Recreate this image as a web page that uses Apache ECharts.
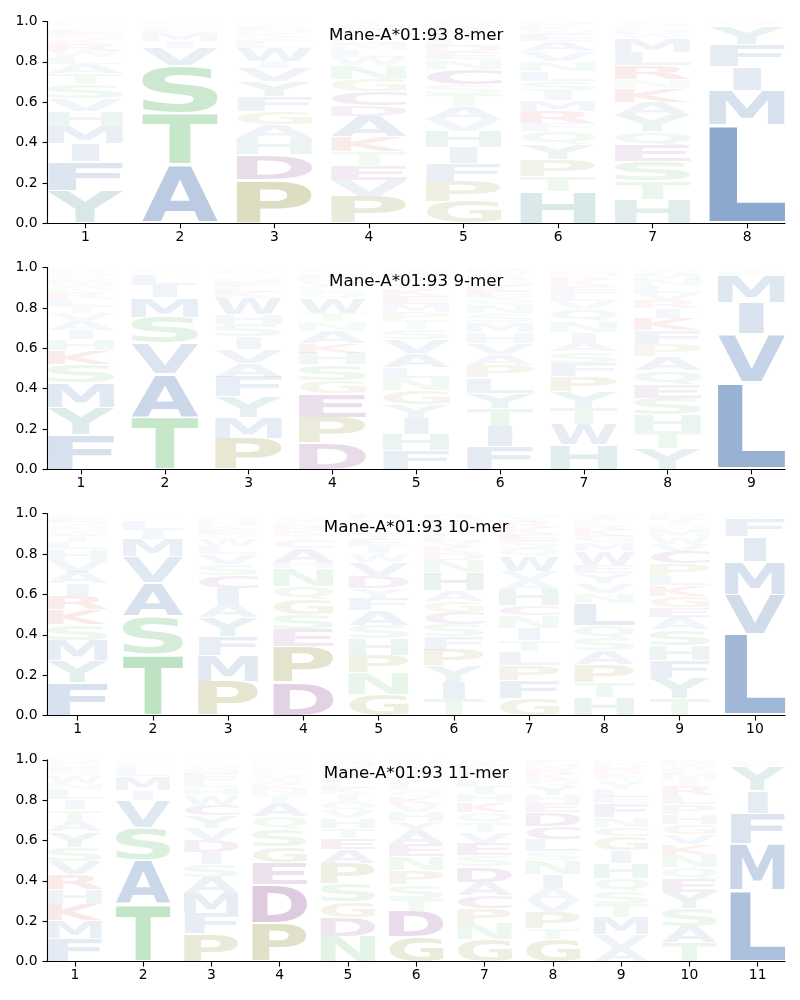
<!DOCTYPE html>
<html>
<head>
<meta charset="utf-8">
<script src="https://cdn.jsdelivr.net/npm/echarts@6/dist/echarts.min.js"></script>
<style>html,body{margin:0;padding:0;background:#fff}#c{width:800px;height:1000px}</style>
</head>
<body>
<div id="c"></div>
<script>
// ---------------- DATA ----------------
const titles = ['Mane-A*01:93 8-mer', 'Mane-A*01:93 9-mer', 'Mane-A*01:93 10-mer', 'Mane-A*01:93 11-mer'];
const positions8 = [1, 2, 3, 4, 5, 6, 7, 8];
const positions9 = [1, 2, 3, 4, 5, 6, 7, 8, 9];
const positions10 = [1, 2, 3, 4, 5, 6, 7, 8, 9, 10];
const positions11 = [1, 2, 3, 4, 5, 6, 7, 8, 9, 10, 11];
const yTicks = [0, 0.2, 0.4, 0.6, 0.8, 1.0];

// each position: [residue, probability], stacked bottom -> top
const logo8 = [
  [['Y',.16],['F',.145],['I',.09],['M',.087],['H',.075],['V',.06],['S',.07],['T',.055],['A',.045],['L',.035],['W',.03],['R',.035],['K',.025],['N',.02],['E',.025],['Q',.015],['G',.015],['D',.01]],
  [['A',.29],['T',.256],['S',.234],['V',.088],['I',.033],['M',.041],['L',.02],['G',.015],['N',.012],['C',.011]],
  [['P',.216],['D',.124],['H',.082],['A',.066],['G',.066],['F',.075],['Y',.074],['V',.066],['I',.033],['W',.066],['L',.03],['S',.025],['K',.02],['M',.02],['E',.015],['T',.012],['R',.01]],
  [['P',.134],['V',.08],['E',.074],['T',.066],['K',.074],['A',.1],['D',.055],['C',.07],['G',.06],['N',.07],['W',.04],['L',.035],['M',.03],['S',.03],['Y',.025],['R',.025],['H',.02],['I',.012]],
  [['G',.109],['P',.099],['F',.09],['I',.08],['H',.08],['V',.058],['A',.063],['T',.058],['S',.05],['C',.074],['N',.05],['E',.035],['D',.03],['L',.03],['M',.025],['K',.025],['R',.02],['Q',.024]],
  [['H',.158],['T',.075],['P',.082],['Y',.074],['Q',.065],['F',.04],['R',.06],['M',.055],['I',.045],['S',.05],['L',.05],['N',.05],['V',.05],['A',.05],['E',.03],['W',.025],['K',.021],['D',.02]],
  [['H',.12],['T',.091],['S',.096],['E',.078],['Q',.07],['Y',.08],['A',.066],['K',.07],['N',.04],['R',.07],['L',.066],['M',.07],['W',.02],['D',.02],['F',.015],['G',.028]],
  [['L',.49],['M',.17],['I',.115],['F',.11],['Y',.09],['V',.015],['W',.01]]
];
const logo9 = [
  [['F',.17],['Y',.135],['M',.124],['S',.09],['K',.07],['H',.055],['I',.045],['A',.045],['V',.04],['T',.035],['L',.035],['R',.03],['N',.025],['W',.025],['E',.02],['Q',.02],['G',.015],['D',.011],['C',.01]],
  [['T',.258],['A',.216],['V',.15],['S',.13],['M',.097],['I',.063],['L',.056],['G',.01],['C',.01],['F',.01]],
  [['P',.155],['M',.104],['Y',.1],['F',.098],['A',.07],['V',.07],['I',.06],['S',.063],['H',.05],['W',.08],['K',.03],['L',.03],['E',.025],['N',.02],['T',.015],['R',.015],['G',.015]],
  [['D',.13],['P',.128],['E',.117],['G',.065],['S',.08],['H',.058],['K',.047],['A',.06],['N',.049],['T',.041],['W',.075],['Q',.03],['L',.025],['V',.025],['M',.02],['R',.02],['Y',.015],['F',.015]],
  [['F',.095],['H',.08],['I',.08],['Y',.065],['G',.07],['N',.06],['L',.055],['A',.07],['V',.07],['S',.05],['T',.045],['P',.04],['M',.04],['E',.04],['K',.035],['Q',.03],['R',.025],['D',.025],['W',.02],['C',.005]],
  [['F',.112],['I',.1],['T',.09],['Y',.077],['L',.076],['P',.062],['A',.055],['V',.055],['H',.052],['M',.05],['S',.045],['N',.04],['Q',.035],['E',.03],['K',.03],['G',.03],['R',.025],['W',.02],['D',.016]],
  [['H',.124],['W',.1],['T',.08],['Y',.08],['P',.078],['F',.065],['S',.057],['A',.048],['I',.048],['N',.054],['Q',.06],['V',.04],['L',.04],['E',.035],['K',.03],['R',.02],['M',.02],['G',.016],['D',.005]],
  [['Y',.102],['T',.088],['H',.08],['S',.083],['E',.067],['Q',.07],['A',.07],['P',.06],['F',.07],['K',.06],['I',.05],['R',.04],['V',.035],['L',.035],['N',.03],['M',.03],['W',.02],['G',.01]],
  [['L',.43],['V',.24],['I',.155],['M',.135],['F',.02],['Y',.015],['W',.005]]
];
const logo10 = [
  [['F',.165],['Y',.105],['M',.103],['S',.077],['K',.075],['R',.065],['I',.063],['A',.058],['V',.058],['H',.055],['L',.035],['T',.03],['W',.025],['N',.025],['Q',.02],['E',.02],['G',.021]],
  [['T',.302],['S',.188],['A',.167],['V',.13],['M',.089],['I',.044],['L',.05],['F',.01],['G',.01],['C',.01]],
  [['P',.17],['M',.125],['F',.095],['Y',.095],['A',.065],['I',.08],['C',.065],['S',.055],['V',.05],['L',.04],['W',.035],['Q',.025],['E',.025],['K',.02],['H',.02],['N',.02],['T',.015]],
  [['D',.165],['P',.175],['E',.085],['S',.075],['G',.075],['Q',.065],['N',.09],['H',.03],['A',.07],['C',.04],['T',.025],['K',.025],['R',.02],['L',.02],['V',.02],['M',.015],['Y',.005]],
  [['G',.105],['N',.105],['P',.09],['H',.08],['S',.067],['A',.072],['F',.063],['Y',.05],['D',.06],['V',.07],['W',.04],['I',.035],['E',.03],['T',.03],['L',.025],['K',.02],['Q',.02],['M',.018],['R',.02]],
  [['T',.08],['I',.085],['Y',.08],['P',.08],['F',.065],['S',.06],['C',.06],['G',.055],['A',.055],['H',.09],['N',.06],['D',.035],['K',.03],['V',.03],['L',.03],['W',.025],['E',.02],['Q',.02],['M',.02],['R',.02]],
  [['G',.085],['F',.09],['P',.075],['L',.066],['T',.055],['I',.063],['N',.06],['C',.05],['H',.08],['A',.045],['V',.045],['W',.075],['Q',.04],['S',.035],['E',.035],['K',.03],['R',.03],['Y',.025],['M',.016]],
  [['H',.088],['T',.075],['P',.09],['A',.068],['S',.06],['Q',.065],['L',.11],['N',.05],['V',.05],['Y',.05],['E',.04],['W',.07],['M',.04],['G',.035],['K',.03],['R',.025],['F',.025],['I',.025],['D',.004]],
  [['T',.085],['Y',.1],['F',.09],['H',.073],['S',.08],['A',.058],['E',.05],['G',.055],['K',.055],['L',.045],['P',.06],['C',.06],['V',.04],['W',.035],['M',.03],['N',.025],['I',.025],['R',.02],['D',.014]],
  [['L',.405],['V',.195],['M',.165],['I',.12],['F',.09],['Y',.015],['W',.01]]
];
const logo11 = [
  [['F',.115],['M',.088],['K',.08],['H',.073],['R',.075],['V',.067],['S',.07],['Y',.075],['A',.053],['T',.057],['I',.05],['L',.045],['N',.035],['W',.035],['Q',.025],['E',.02],['G',.02],['D',.017]],
  [['T',.28],['A',.22],['S',.165],['V',.135],['I',.05],['M',.068],['L',.035],['F',.02],['G',.015],['C',.012]],
  [['P',.137],['F',.1],['M',.1],['A',.08],['S',.065],['I',.06],['D',.06],['V',.06],['Y',.06],['C',.055],['W',.05],['H',.035],['L',.035],['E',.03],['N',.025],['Q',.02],['K',.015],['T',.013]],
  [['P',.19],['D',.19],['E',.11],['G',.08],['S',.085],['Q',.065],['A',.065],['T',.04],['N',.03],['K',.025],['W',.025],['V',.02],['L',.02],['H',.015],['R',.015],['Y',.015],['M',.01]],
  [['N',.125],['D',.095],['G',.075],['S',.09],['P',.1],['A',.07],['E',.055],['T',.05],['H',.05],['V',.04],['Q',.045],['I',.035],['K',.03],['L',.03],['F',.03],['R',.025],['Y',.025],['M',.02],['W',.01]],
  [['G',.125],['D',.125],['T',.06],['S',.07],['P',.07],['N',.07],['E',.06],['A',.065],['Y',.05],['H',.045],['V',.04],['K',.035],['Q',.035],['L',.03],['F',.03],['I',.03],['R',.025],['M',.025],['W',.01]],
  [['G',.11],['N',.08],['P',.075],['C',.065],['A',.065],['D',.075],['S',.055],['E',.06],['V',.055],['T',.05],['Q',.05],['K',.05],['H',.04],['I',.035],['L',.035],['M',.03],['R',.025],['F',.025],['Y',.02]],
  [['G',.11],['T',.055],['P',.08],['V',.06],['A',.058],['I',.07],['N',.07],['S',.042],['L',.06],['C',.065],['D',.07],['E',.045],['H',.04],['Y',.045],['Q',.03],['K',.03],['R',.025],['M',.025],['F',.02]],
  [['A',.065],['V',.068],['M',.085],['T',.065],['S',.065],['Q',.065],['H',.075],['I',.062],['G',.07],['C',.045],['N',.05],['F',.07],['E',.03],['L',.04],['Y',.03],['W',.025],['K',.025],['R',.025],['D',.02],['P',.02]],
  [['T',.095],['A',.08],['S',.09],['Y',.08],['E',.065],['Q',.055],['N',.06],['K',.055],['V',.05],['G',.05],['H',.05],['P',.05],['L',.045],['R',.045],['I',.03],['M',.03],['F',.025],['W',.025],['D',.02]],
  [['L',.355],['M',.23],['F',.15],['I',.11],['Y',.12],['V',.02],['W',.015]]
];

// ---------------- STYLE ----------------
const BLUE = [74, 118, 178], GREEN = [88, 184, 100], PURPLE = [125, 45, 125],
      OLIVE = [135, 135, 40], RED = [214, 39, 40], TEAL = [70, 140, 140];
const residueColor = {
  A: BLUE, V: BLUE, L: BLUE, I: BLUE, M: BLUE, F: BLUE, W: BLUE,
  S: GREEN, T: GREEN, N: GREEN, Q: GREEN,
  D: PURPLE, E: PURPLE, C: PURPLE,
  P: OLIVE, G: OLIVE,
  K: RED, R: RED,
  H: TEAL, Y: TEAL
};
const FONT_FAMILY = 'DejaVu Sans';
const GLYPH_SIZE = 100;
const LETTER_W = 0.8;
const VPAD = 0.05;
const MAX_STRETCH_CHAR = 'E'; // glyphs are never stretched wider than this one would be

// glyph ink metrics (text drawn with baseline 'middle', align 'left')
const mctx = document.createElement('canvas').getContext('2d');
mctx.font = 'bold ' + GLYPH_SIZE + 'px "' + FONT_FAMILY + '"';
mctx.textBaseline = 'middle';
mctx.textAlign = 'left';
const metricCache = {};
function metric(ch) {
  if (!metricCache[ch]) {
    const m = mctx.measureText(ch);
    metricCache[ch] = { l: m.actualBoundingBoxLeft, r: m.actualBoundingBoxRight, a: m.actualBoundingBoxAscent, d: m.actualBoundingBoxDescent };
  }
  return metricCache[ch];
}

const logos = [logo8, logo9, logo10, logo11];
const positionsList = [positions8, positions9, positions10, positions11];

const GRID_LEFT = 47.5, GRID_RIGHT = 15, GRID_TOP0 = 21.5, GRID_STEP = 246.1, GRID_H = 201.8;
const AXIS_COLOR = '#000';
const LABEL_SIZE = 13.9;

const grids = [], xAxes = [], yAxes = [], series = [], titleOpts = [];

logos.forEach((logo, i) => {
  const positions = positionsList[i];
  const n = positions.length;
  const top = GRID_TOP0 + GRID_STEP * i;
  grids.push({ left: GRID_LEFT, right: GRID_RIGHT, top: top, height: GRID_H, containLabel: false });
  xAxes.push({
    type: 'value', gridIndex: i, min: 0.6, max: n + 0.4,
    axisLine: { show: true, onZero: false, lineStyle: { color: AXIS_COLOR, width: 1.1 } },
    axisTick: { show: true, inside: false, length: 5, customValues: positions, lineStyle: { color: AXIS_COLOR, width: 1.1 } },
    axisLabel: { show: true, customValues: positions, margin: 7, color: '#000', fontSize: LABEL_SIZE, fontFamily: FONT_FAMILY, formatter: v => String(v) },
    splitLine: { show: false }
  });
  yAxes.push({
    type: 'value', gridIndex: i, min: 0, max: 1,
    axisLine: { show: true, onZero: false, lineStyle: { color: AXIS_COLOR, width: 1.1 } },
    axisTick: { show: true, inside: false, length: 5, customValues: yTicks, lineStyle: { color: AXIS_COLOR, width: 1.1 } },
    axisLabel: { show: true, customValues: yTicks, margin: 10, color: '#000', fontSize: LABEL_SIZE, fontFamily: FONT_FAMILY, formatter: v => Number(v).toFixed(1) },
    splitLine: { show: false }
  });
  titleOpts.push({
    text: titles[i], left: GRID_LEFT + (800 - GRID_LEFT - GRID_RIGHT) / 2, top: top + 5.5, textAlign: 'center', padding: 0,
    textStyle: { fontSize: 16.7, fontWeight: 'normal', fontFamily: FONT_FAMILY, color: '#000' }
  });

  const glyphs = [];
  logo.forEach((col, j) => {
    let cum = 0;
    col.forEach(([ch, p]) => {
      glyphs.push({ x: positions[j], y0: cum, y1: cum + p, ch: ch, p: p });
      cum += p;
    });
  });

  series.push({
    type: 'custom', xAxisIndex: i, yAxisIndex: i, silent: true, clip: false, animation: false,
    encode: { x: 0, y: [1, 2] },
    data: glyphs.map(g => [g.x, g.y0, g.y1]),
    renderItem: (params, api) => {
      const g = glyphs[params.dataIndex];
      const x = api.value(0), y0 = api.value(1), y1 = api.value(2);
      const pad = (y1 - y0) * VPAD / 2;
      const tl = api.coord([x - LETTER_W / 2, y1 - pad]);
      const br = api.coord([x + LETTER_W / 2, y0 + pad]);
      const m = metric(g.ch);
      const mE = metric(MAX_STRETCH_CHAR);
      const boxW = br[0] - tl[0];
      const inkW = m.l + m.r;
      const sx = Math.min(boxW / inkW, boxW / (mE.l + mE.r));
      const sy = (br[1] - tl[1]) / (m.a + m.d);
      const left = tl[0] + (boxW - inkW * sx) / 2;
      const c = residueColor[g.ch];
      const alpha = Math.min(1, 1.3 * g.p);
      return {
        type: 'text',
        x: left + m.l * sx, y: tl[1] + m.a * sy,
        scaleX: sx, scaleY: sy,
        silent: true,
        style: {
          text: g.ch, x: 0, y: 0,
          fontSize: GLYPH_SIZE, fontWeight: 'bold', fontFamily: FONT_FAMILY,
          align: 'left', verticalAlign: 'middle',
          fill: 'rgba(' + c[0] + ',' + c[1] + ',' + c[2] + ',' + alpha.toFixed(3) + ')'
        }
      };
    }
  });
});

const chart = echarts.init(document.getElementById('c'), null, { renderer: 'canvas', width: 800, height: 1000 });
chart.setOption({
  animation: false,
  backgroundColor: '#fff',
  textStyle: { fontFamily: FONT_FAMILY },
  title: titleOpts,
  grid: grids,
  xAxis: xAxes,
  yAxis: yAxes,
  series: series
});
</script>
</body>
</html>
